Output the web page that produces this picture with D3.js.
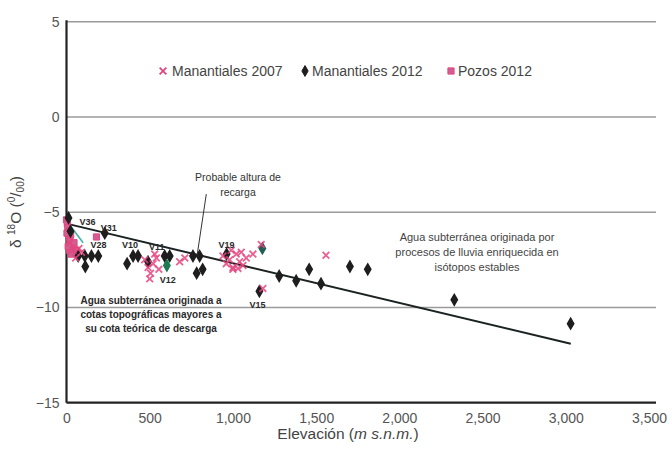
<!DOCTYPE html>
<html>
<head>
<meta charset="utf-8">
<script src="https://cdn.jsdelivr.net/npm/d3@7"></script>
<style>
  html, body { margin: 0; padding: 0; background: #fff; }
  svg { display: block; font-family: "Liberation Sans", Arial, sans-serif; }
</style>
</head>
<body>
<svg id="chart" width="672" height="451"></svg>
<script>
// Elevation (m s.n.m.) and delta 18O (per mil) for each sampled group
const manantiales2007Elev = [20, 40, 55, 75, 90, 470, 490, 505, 520, 540, 555, 500, 530, 680, 711,
  940, 960, 980, 1000, 1020, 1040, 1060, 1080, 1000, 1050, 990, 1030, 1120, 1170, 1180, 1559];
const manantiales2007D18O = [-6.6, -7.0, -7.4, -6.9, -7.1, -7.5, -7.9, -8.2, -7.7, -7.4, -8.0, -8.5, -7.2, -7.6, -7.4,
  -7.3, -7.7, -7.5, -7.9, -7.2, -7.6, -7.8, -7.4, -8.0, -7.1, -7.0, -7.95, -7.2, -6.7, -9.0, -7.26];

const manantiales2012Elev = [12, 24, 70, 110, 150, 113, 191, 230, 364, 400, 430, 490, 590, 620, 760, 800,
  782, 818, 962, 1159, 1278, 1380, 1458, 1529, 1703, 1810, 2330, 3029, 603, 1177];
const manantiales2012D18O = [-5.3, -6.0, -7.3, -7.3, -7.3, -7.85, -7.3, -6.1, -7.7, -7.3, -7.3, -7.6, -7.3, -7.3, -7.3, -7.3,
  -8.2, -8.0, -7.2, -9.15, -8.35, -8.6, -8.0, -8.75, -7.85, -8.0, -9.6, -10.85, -7.8, -6.9];

const pozos2012Elev = [0, 5, 8, 12, 15, 20, 25, 30, 35, 45, 3, 18, 28, 10, 180, 60];
const pozos2012D18O = [-5.4, -5.6, -5.8, -6.0, -6.3, -6.5, -6.2, -6.7, -6.9, -6.6, -6.1, -7.0, -7.2, -6.8, -6.3, -7.0];

// Spring identifiers and the 2012 sample each one names
const springLabels = ["V36", "V31", "V28", "V10", "V11", "V12", "V19", "V15"];
const springLabelElev = [12, 230, 150, 400, 590, 603, 962, 1159];
const springLabelD18O = [-5.3, -6.1, -7.3, -7.3, -7.3, -7.8, -7.2, -9.15];

// Linear fit of d18O against elevation
const trendIntercept = -5.6;
const trendSlope = -0.00208;
const trendRange = [0, 3030];
const localTrend = [[0, -5.45], [100, -6.6]];

// Probable recharge elevation pointer
const rechargePointer = [[840, -4.05], [785, -7.25]];

const xTicks = [0, 500, 1000, 1500, 2000, 2500, 3000, 3500];
const yTicks = [5, 0, -5, -10, -15];
const seriesNames = ["Manantiales 2007", "Manantiales 2012", "Pozos 2012"];

const svg = d3.select("#chart");
const x = d3.scaleLinear().domain([0, 3500]).range([66.5, 649]);
const y = d3.scaleLinear().domain([-15, 5]).range([402.7, 21.7]);

const pink = "#e3457f";
const gridRight = x(3500) + 7;

// Horizontal gridlines
svg.append("g").selectAll("line")
  .data(yTicks.filter(d => d !== -15))
  .join("line")
  .attr("x1", x(0)).attr("x2", gridRight)
  .attr("y1", d => y(d)).attr("y2", d => y(d))
  .attr("stroke", "#9a9a9a").attr("stroke-width", 1.6);

// Axes
const xAxis = d3.axisBottom(x).tickValues(xTicks).tickSize(0).tickPadding(10)
  .tickFormat(d3.format(","));
const gx = svg.append("g").attr("transform", `translate(0,${y(-15)})`).call(xAxis);
gx.select(".domain").remove();
gx.selectAll("text").attr("font-size", 14).attr("fill", "#555")
  .attr("font-family", "Liberation Sans, Arial, sans-serif");

const yAxis = d3.axisLeft(y).tickValues(yTicks).tickSize(0).tickPadding(7);
const gy = svg.append("g").attr("transform", `translate(${x(0)},0)`).call(yAxis);
gy.select(".domain").remove();
gy.selectAll("text").attr("font-size", 14).attr("fill", "#555")
  .attr("font-family", "Liberation Sans, Arial, sans-serif");

svg.append("line").attr("x1", x(0)).attr("x2", gridRight)
  .attr("y1", y(-15)).attr("y2", y(-15)).attr("stroke", "#222").attr("stroke-width", 2.2);
svg.append("line").attr("x1", x(0)).attr("x2", x(0))
  .attr("y1", y(5) - 1.5).attr("y2", y(-15)).attr("stroke", "#222").attr("stroke-width", 2.2);

// Axis titles
const xt = svg.append("text").attr("x", 348).attr("y", 439).attr("text-anchor", "middle")
  .attr("font-size", 15.5).attr("fill", "#444");
xt.append("tspan").text("Elevación (");
xt.append("tspan").attr("font-style", "italic").text("m s.n.m.");
xt.append("tspan").text(")");

const yt = svg.append("text").attr("transform", "translate(21,212) rotate(-90)")
  .attr("text-anchor", "middle").attr("font-size", 15.5).attr("fill", "#444");
yt.append("tspan").text("δ ");
yt.append("tspan").attr("font-size", 10).attr("dy", -6).text("18");
yt.append("tspan").attr("dy", 6).text("O (");
yt.append("tspan").attr("font-size", 10).attr("dy", -6).text("0");
yt.append("tspan").attr("dy", 6).text("/");
yt.append("tspan").attr("font-size", 10).attr("dy", 3).text("00");
yt.append("tspan").attr("dy", -3).text(")");

// Trend lines
const line = d3.line().x(d => x(d[0])).y(d => y(d[1]));
svg.append("path")
  .attr("d", line(trendRange.map(e => [e, trendIntercept + trendSlope * e])))
  .attr("fill", "none").attr("stroke", "#1b2222").attr("stroke-width", 2);
svg.append("path").attr("d", line(localTrend))
  .attr("fill", "none").attr("stroke", "#3fb3a8").attr("stroke-width", 1.6);

// Marker shapes
const timesShape = {
  draw(ctx, size) {
    const r = Math.sqrt(size) / 2;
    ctx.moveTo(-r, -r); ctx.lineTo(r, r);
    ctx.moveTo(r, -r); ctx.lineTo(-r, r);
  }
};
const symTimes = d3.symbol().type(timesShape).size(45);
const symDiamond = d3.symbol().type(d3.symbolDiamond).size(34);
const symSquare = d3.symbol().type(d3.symbolSquare).size(38);

// Pozos 2012
svg.append("g").selectAll("path")
  .data(d3.zip(pozos2012Elev, pozos2012D18O))
  .join("path")
  .attr("transform", d => `translate(${x(d[0])},${y(d[1])})`)
  .attr("d", symSquare)
  .attr("fill", "#d35d90").attr("stroke", pink).attr("stroke-width", 1);

// Manantiales 2012
svg.append("g").selectAll("path")
  .data(d3.zip(manantiales2012Elev, manantiales2012D18O))
  .join("path")
  .attr("transform", d => `translate(${x(d[0])},${y(d[1])})`)
  .attr("d", symDiamond)
  .attr("stroke-width", 1.5)
  .attr("fill", (d, i) => i === manantiales2012Elev.length - 2 ? "#1e7a52"
    : i === manantiales2012Elev.length - 1 ? "#1f5f55" : "#1e1e1e")
  .attr("stroke", (d, i) => i === manantiales2012Elev.length - 2 ? "#1e7a52"
    : i === manantiales2012Elev.length - 1 ? "#1f5f55" : "#1e1e1e");

// Manantiales 2007
svg.append("g").selectAll("path")
  .data(d3.zip(manantiales2007Elev, manantiales2007D18O))
  .join("path")
  .attr("transform", d => `translate(${x(d[0])},${y(d[1])})`)
  .attr("d", symTimes)
  .attr("fill", "none").attr("stroke", pink).attr("stroke-width", 1.8).attr("opacity", 0.85);

// Spring labels
const labelOffsets = {
  V36: [19, 4], V31: [4, -5], V28: [7, -11], V10: [-3, -11],
  V11: [-8, -9], V12: [1, 14], V19: [0, -9], V15: [-2, 14]
};
svg.append("g").selectAll("text")
  .data(d3.zip(springLabels, springLabelElev, springLabelD18O))
  .join("text")
  .attr("x", d => x(d[1]) + labelOffsets[d[0]][0])
  .attr("y", d => y(d[2]) + labelOffsets[d[0]][1])
  .attr("text-anchor", "middle").attr("dominant-baseline", "central")
  .attr("font-size", 9).attr("font-weight", "bold").attr("fill", "#2a2a2a")
  .text(d => d[0]);

// Recharge annotation
svg.append("path").attr("d", line(rechargePointer))
  .attr("fill", "none").attr("stroke", "#333").attr("stroke-width", 1);
svg.append("text").attr("x", 238).attr("y", 177).attr("text-anchor", "middle")
  .attr("dominant-baseline", "central").attr("font-size", 10.5).attr("fill", "#333")
  .text("Probable altura de");
svg.append("text").attr("x", 238).attr("y", 192).attr("text-anchor", "middle")
  .attr("dominant-baseline", "central").attr("font-size", 10.5).attr("fill", "#333")
  .text("recarga");

// Explanatory notes
const noteRight = ["Agua subterránea originada por", "procesos de lluvia enriquecida en", "isótopos estables"];
svg.append("g").selectAll("text").data(noteRight).join("text")
  .attr("x", 477).attr("y", (d, i) => 237 + i * 15)
  .attr("text-anchor", "middle").attr("dominant-baseline", "central")
  .attr("font-size", 11).attr("fill", "#444").text(d => d);

const noteLeft = ["Agua subterránea originada a", "cotas topográficas mayores a", "su cota teórica de descarga"];
svg.append("g").selectAll("text").data(noteLeft).join("text")
  .attr("x", 151).attr("y", (d, i) => 300 + i * 14)
  .attr("text-anchor", "middle").attr("dominant-baseline", "central")
  .attr("font-size", 10).attr("font-weight", "bold").attr("fill", "#2a2a2a").text(d => d);

// Legend
const legendX = [163, 305, 451];
const legend = svg.append("g").selectAll("g").data(seriesNames).join("g")
  .attr("transform", (d, i) => `translate(${legendX[i]},71)`);
legend.append("path")
  .attr("d", (d, i) => i === 0 ? symTimes() : i === 1 ? symDiamond() : symSquare())
  .attr("fill", (d, i) => i === 0 ? "none" : i === 1 ? "#1e1e1e" : "#d35d90")
  .attr("stroke", (d, i) => i === 1 ? "#1e1e1e" : pink)
  .attr("stroke-width", (d, i) => i === 0 ? 1.8 : 1);
legend.append("text")
  .attr("x", (d, i) => i === 0 ? 9 : 7).attr("dominant-baseline", "central")
  .attr("font-size", 14).attr("fill", "#444").text(d => d);
</script>
</body>
</html>
